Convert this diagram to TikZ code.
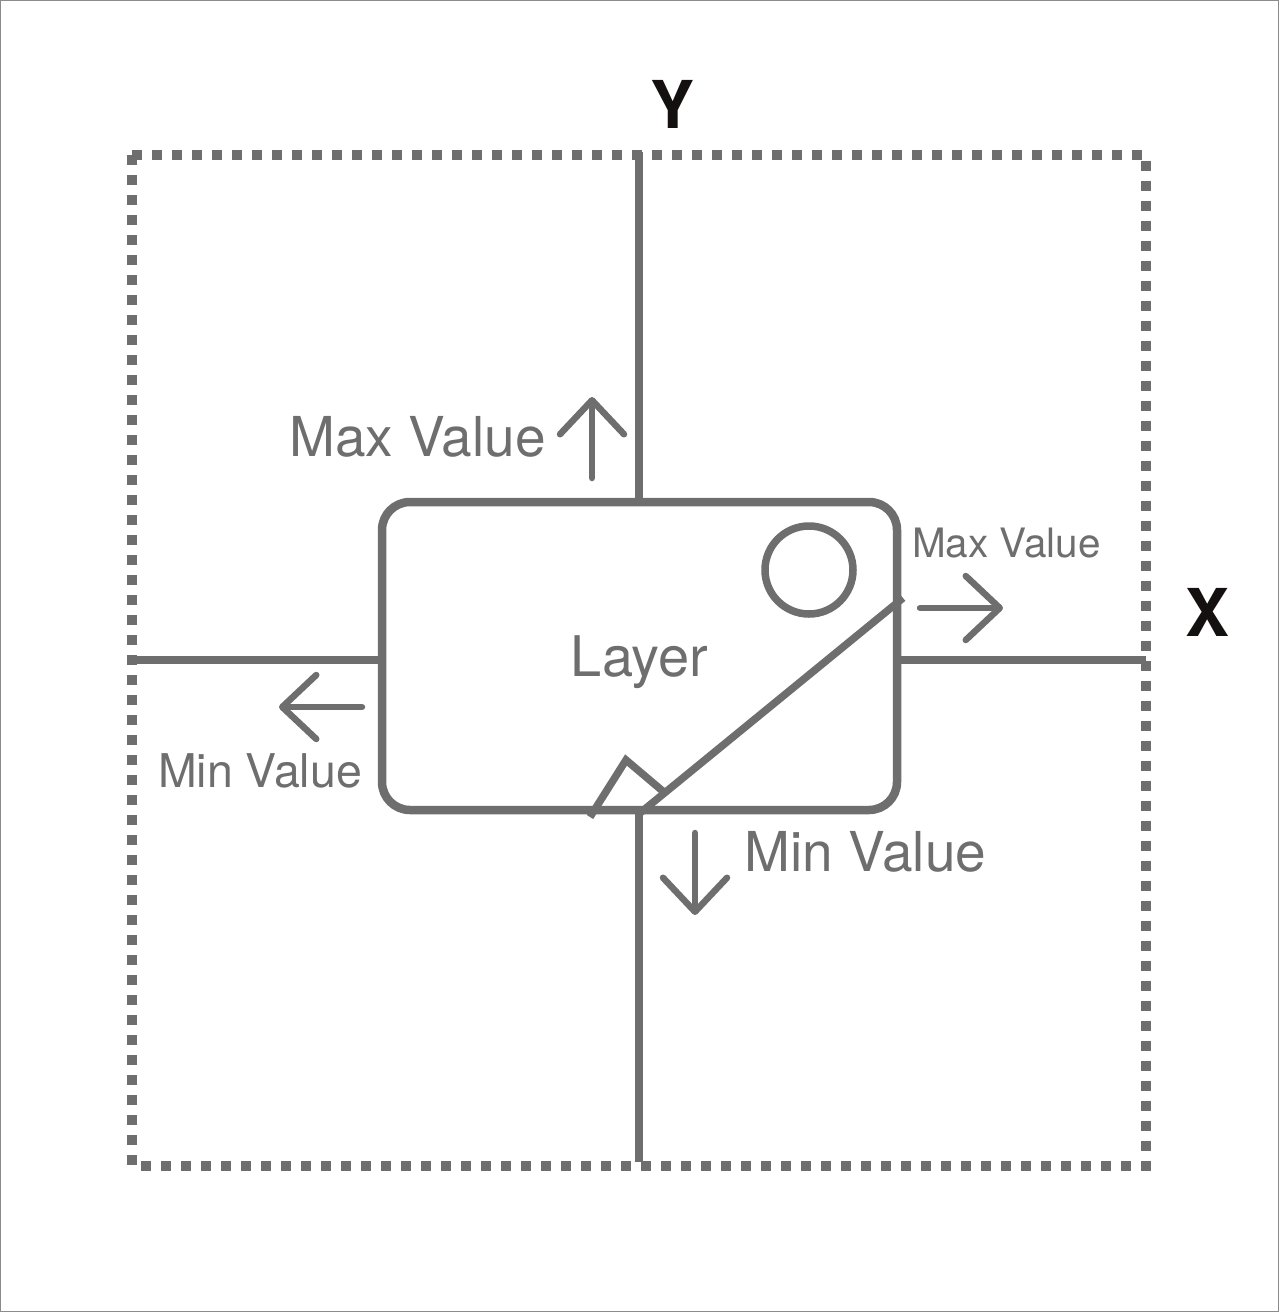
\documentclass[tikz,border=0pt]{standalone}
\usepackage{fontspec}
\setmainfont{TeX Gyre Heros}
\usetikzlibrary{arrows.meta}
\definecolor{linegray}{HTML}{6E6E6E}
\definecolor{namedark}{HTML}{141010}
\begin{document}
\begin{tikzpicture}[x=1pt,y=-1pt,
  >={Straight Barb[length=34pt,width=64pt,round]},
  axis/.style={linegray,line width=8pt},
  mark line/.style={linegray,line width=7.5pt},
  move/.style={->,linegray,line width=6.5pt,line cap=round},
  value/.style={linegray,inner sep=0pt,anchor=base},
  axisname/.style={namedark,inner sep=0pt,anchor=base,font=\bfseries\fontsize{66}{66}\selectfont}]
  \useasboundingbox (0,0) rectangle (1279,1312);
  \draw[linegray!80,line width=1pt] (0.5,0.5) rectangle (1278.5,1311.5);
  % dotted frame
  \draw[linegray,line width=10pt,dash pattern=on 10pt off 10pt] (132,155) rectangle (1146,1166);
  % layer box
  \node[draw=linegray,fill=white,line width=8.5pt,rounded corners=28pt,minimum width=515pt,minimum height=308pt,
    inner sep=0pt,text=linegray,text depth=0pt,font=\fontsize{56}{56}\selectfont] (layer) at (639.5,656) {Layer};
  % axes
  \coordinate (yTop) at (639,152);
  \coordinate (yBot) at (639,1162);
  \coordinate (xLeft) at (132,660);
  \coordinate (xRight) at (1146,660);
  \draw[axis] (yTop) -- (yTop |- layer.north);
  \draw[axis] (yBot |- layer.south) -- (yBot);
  \draw[axis] (xLeft) -- (xLeft -| layer.west);
  \draw[axis] (xRight -| layer.east) -- (xRight);
  % icon inside the layer
  \node[draw=linegray,line width=7.5pt,circle,minimum size=88pt,inner sep=0pt] (knob) at (809,570) {};
  \coordinate (slopeLow) at (640,813);
  \coordinate (slopeHigh) at (903,598);
  \coordinate (wedgeA) at (590,817);
  \coordinate (wedgeTop) at (626,760);
  \coordinate (wedgeB) at (665,793);
  \draw[mark line] (slopeLow) -- (slopeHigh);
  \draw[mark line] (wedgeA) -- (wedgeTop) -- (wedgeB);
  % arrows
  \coordinate (upFrom) at (592,478);
  \coordinate (upTo) at (592,397);
  \coordinate (rightFrom) at (920,608);
  \coordinate (rightTo) at (1003,608);
  \coordinate (leftFrom) at (362,707);
  \coordinate (leftTo) at (279,707);
  \coordinate (downFrom) at (695,833);
  \coordinate (downTo) at (695,915);
  \draw[move] (upFrom) -- (upTo);
  \draw[move] (rightFrom) -- (rightTo);
  \draw[move] (leftFrom) -- (leftTo);
  \draw[move] (downFrom) -- (downTo);
  % labels
  \node[value,font=\fontsize{55}{55}\selectfont] (maxUp) at (417.5,456) {Max Value};
  \node[value,font=\fontsize{40.5}{41}\selectfont] (maxRight) at (1006.5,557) {Max Value};
  \node[value,font=\fontsize{46.5}{47}\selectfont] (minLeft) at (260,787) {Min Value};
  \node[value,font=\fontsize{55}{55}\selectfont] (minDown) at (865.5,871) {Min Value};
  \node[axisname] (yName) at (673,128) {Y};
  \node[axisname] (xName) at (1207,636) {X};
\end{tikzpicture}
\end{document}
